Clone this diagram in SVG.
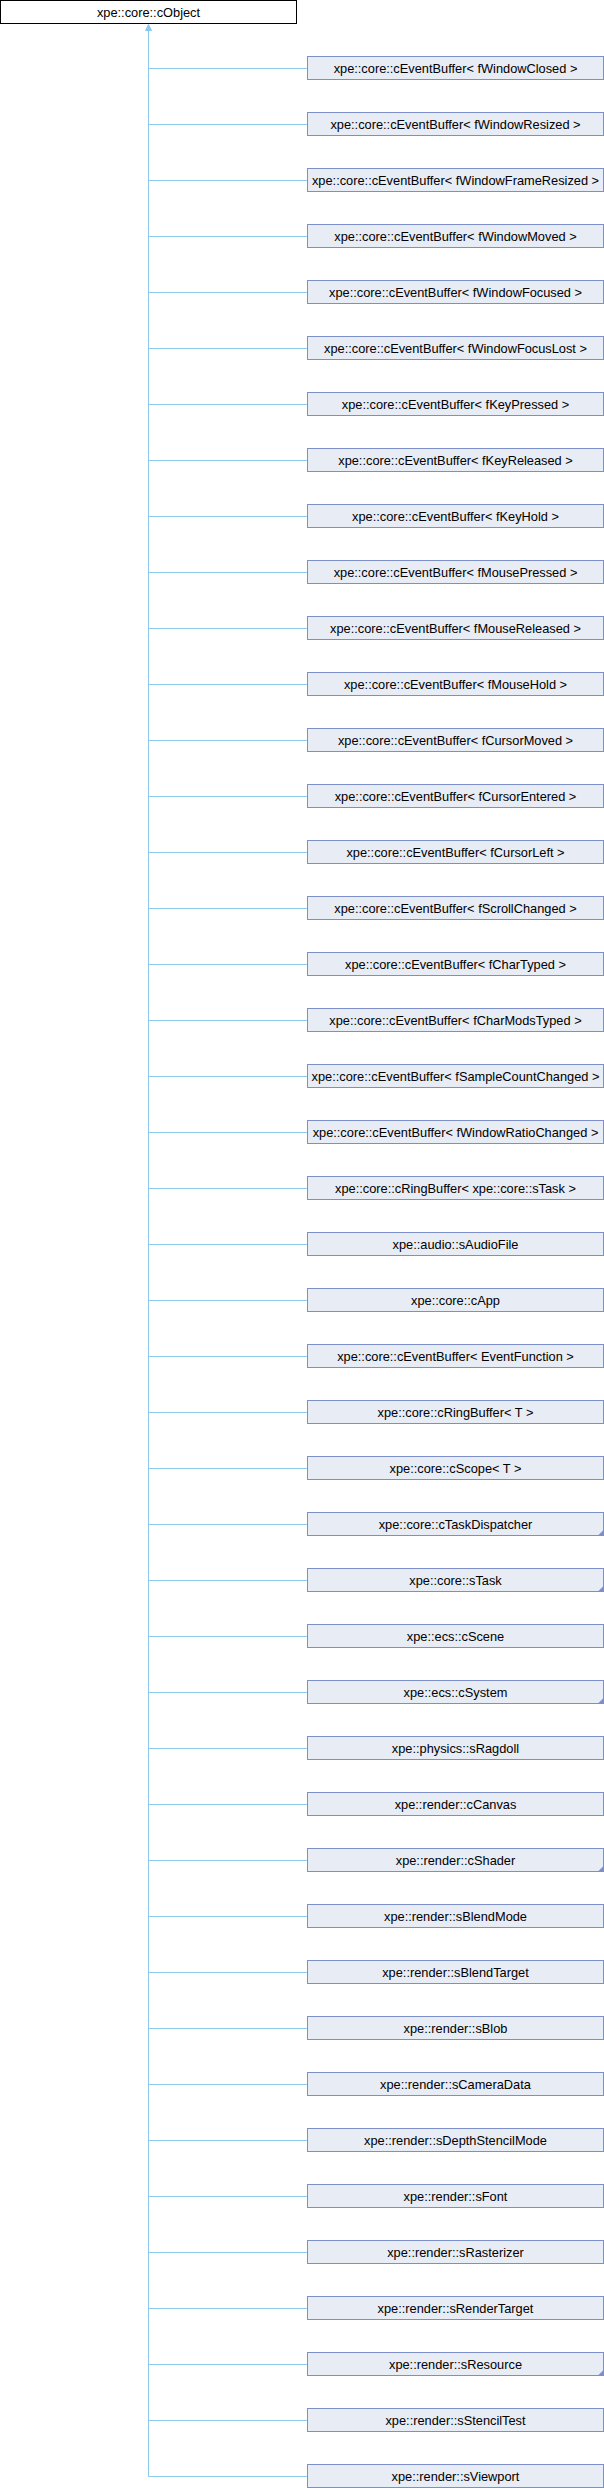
<svg xmlns="http://www.w3.org/2000/svg" width="604" height="2488" viewBox="0 0 604 2488">
<style>
.bg{fill:#ffffff}
.n rect{fill:#E8ECF5;stroke:#7C8FC8;stroke-width:1}
.root rect{fill:#ffffff;stroke:#000000;stroke-width:1}
text{font-family:"Liberation Sans",Arial,sans-serif;font-size:12.8px;fill:#000000;text-anchor:middle}
.fold{fill:#7C8FC8}
.edges path{fill:none;stroke:#8DC9EA;stroke-width:1}
.edges polygon{fill:#8DC9EA;stroke:#8DC9EA;stroke-width:1}
</style>
<rect class="bg" x="0" y="0" width="604" height="2488"/>
<g class="edges" id="connectors">
<path d="M148.5 30V2476.5 M148.5 68.5H307 M148.5 124.5H307 M148.5 180.5H307 M148.5 236.5H307 M148.5 292.5H307 M148.5 348.5H307 M148.5 404.5H307 M148.5 460.5H307 M148.5 516.5H307 M148.5 572.5H307 M148.5 628.5H307 M148.5 684.5H307 M148.5 740.5H307 M148.5 796.5H307 M148.5 852.5H307 M148.5 908.5H307 M148.5 964.5H307 M148.5 1020.5H307 M148.5 1076.5H307 M148.5 1132.5H307 M148.5 1188.5H307 M148.5 1244.5H307 M148.5 1300.5H307 M148.5 1356.5H307 M148.5 1412.5H307 M148.5 1468.5H307 M148.5 1524.5H307 M148.5 1580.5H307 M148.5 1636.5H307 M148.5 1692.5H307 M148.5 1748.5H307 M148.5 1804.5H307 M148.5 1860.5H307 M148.5 1916.5H307 M148.5 1972.5H307 M148.5 2028.5H307 M148.5 2084.5H307 M148.5 2140.5H307 M148.5 2196.5H307 M148.5 2252.5H307 M148.5 2308.5H307 M148.5 2364.5H307 M148.5 2420.5H307 M148.5 2476.5H307"/>
<polygon points="148.5,24.5 145.5,30.5 151.5,30.5"/>
</g>
<g id="cObject" class="root"><rect x="0.5" y="0.5" width="296" height="23"/><text x="148.5" y="16.5">xpe::core::cObject</text></g>
<g id="n0" class="n" transform="translate(307,56)"><rect x="0.5" y="0.5" width="296" height="23"/><text x="148.5" y="16.5">xpe::core::cEventBuffer&lt; fWindowClosed &gt;</text></g>
<g id="n1" class="n" transform="translate(307,112)"><rect x="0.5" y="0.5" width="296" height="23"/><text x="148.5" y="16.5">xpe::core::cEventBuffer&lt; fWindowResized &gt;</text></g>
<g id="n2" class="n" transform="translate(307,168)"><rect x="0.5" y="0.5" width="296" height="23"/><text x="148.5" y="16.5">xpe::core::cEventBuffer&lt; fWindowFrameResized &gt;</text></g>
<g id="n3" class="n" transform="translate(307,224)"><rect x="0.5" y="0.5" width="296" height="23"/><text x="148.5" y="16.5">xpe::core::cEventBuffer&lt; fWindowMoved &gt;</text></g>
<g id="n4" class="n" transform="translate(307,280)"><rect x="0.5" y="0.5" width="296" height="23"/><text x="148.5" y="16.5">xpe::core::cEventBuffer&lt; fWindowFocused &gt;</text></g>
<g id="n5" class="n" transform="translate(307,336)"><rect x="0.5" y="0.5" width="296" height="23"/><text x="148.5" y="16.5">xpe::core::cEventBuffer&lt; fWindowFocusLost &gt;</text></g>
<g id="n6" class="n" transform="translate(307,392)"><rect x="0.5" y="0.5" width="296" height="23"/><text x="148.5" y="16.5">xpe::core::cEventBuffer&lt; fKeyPressed &gt;</text></g>
<g id="n7" class="n" transform="translate(307,448)"><rect x="0.5" y="0.5" width="296" height="23"/><text x="148.5" y="16.5">xpe::core::cEventBuffer&lt; fKeyReleased &gt;</text></g>
<g id="n8" class="n" transform="translate(307,504)"><rect x="0.5" y="0.5" width="296" height="23"/><text x="148.5" y="16.5">xpe::core::cEventBuffer&lt; fKeyHold &gt;</text></g>
<g id="n9" class="n" transform="translate(307,560)"><rect x="0.5" y="0.5" width="296" height="23"/><text x="148.5" y="16.5">xpe::core::cEventBuffer&lt; fMousePressed &gt;</text></g>
<g id="n10" class="n" transform="translate(307,616)"><rect x="0.5" y="0.5" width="296" height="23"/><text x="148.5" y="16.5">xpe::core::cEventBuffer&lt; fMouseReleased &gt;</text></g>
<g id="n11" class="n" transform="translate(307,672)"><rect x="0.5" y="0.5" width="296" height="23"/><text x="148.5" y="16.5">xpe::core::cEventBuffer&lt; fMouseHold &gt;</text></g>
<g id="n12" class="n" transform="translate(307,728)"><rect x="0.5" y="0.5" width="296" height="23"/><text x="148.5" y="16.5">xpe::core::cEventBuffer&lt; fCursorMoved &gt;</text></g>
<g id="n13" class="n" transform="translate(307,784)"><rect x="0.5" y="0.5" width="296" height="23"/><text x="148.5" y="16.5">xpe::core::cEventBuffer&lt; fCursorEntered &gt;</text></g>
<g id="n14" class="n" transform="translate(307,840)"><rect x="0.5" y="0.5" width="296" height="23"/><text x="148.5" y="16.5">xpe::core::cEventBuffer&lt; fCursorLeft &gt;</text></g>
<g id="n15" class="n" transform="translate(307,896)"><rect x="0.5" y="0.5" width="296" height="23"/><text x="148.5" y="16.5">xpe::core::cEventBuffer&lt; fScrollChanged &gt;</text></g>
<g id="n16" class="n" transform="translate(307,952)"><rect x="0.5" y="0.5" width="296" height="23"/><text x="148.5" y="16.5">xpe::core::cEventBuffer&lt; fCharTyped &gt;</text></g>
<g id="n17" class="n" transform="translate(307,1008)"><rect x="0.5" y="0.5" width="296" height="23"/><text x="148.5" y="16.5">xpe::core::cEventBuffer&lt; fCharModsTyped &gt;</text></g>
<g id="n18" class="n" transform="translate(307,1064)"><rect x="0.5" y="0.5" width="296" height="23"/><text x="148.5" y="16.5">xpe::core::cEventBuffer&lt; fSampleCountChanged &gt;</text></g>
<g id="n19" class="n" transform="translate(307,1120)"><rect x="0.5" y="0.5" width="296" height="23"/><text x="148.5" y="16.5">xpe::core::cEventBuffer&lt; fWindowRatioChanged &gt;</text></g>
<g id="n20" class="n" transform="translate(307,1176)"><rect x="0.5" y="0.5" width="296" height="23"/><text x="148.5" y="16.5">xpe::core::cRingBuffer&lt; xpe::core::sTask &gt;</text></g>
<g id="n21" class="n" transform="translate(307,1232)"><rect x="0.5" y="0.5" width="296" height="23"/><text x="148.5" y="16.5">xpe::audio::sAudioFile</text></g>
<g id="n22" class="n" transform="translate(307,1288)"><rect x="0.5" y="0.5" width="296" height="23"/><text x="148.5" y="16.5">xpe::core::cApp</text></g>
<g id="n23" class="n" transform="translate(307,1344)"><rect x="0.5" y="0.5" width="296" height="23"/><text x="148.5" y="16.5">xpe::core::cEventBuffer&lt; EventFunction &gt;</text></g>
<g id="n24" class="n" transform="translate(307,1400)"><rect x="0.5" y="0.5" width="296" height="23"/><text x="148.5" y="16.5">xpe::core::cRingBuffer&lt; T &gt;</text></g>
<g id="n25" class="n" transform="translate(307,1456)"><rect x="0.5" y="0.5" width="296" height="23"/><text x="148.5" y="16.5">xpe::core::cScope&lt; T &gt;</text></g>
<g id="n26" class="n" transform="translate(307,1512)"><rect x="0.5" y="0.5" width="296" height="23"/><polygon class="fold" points="296.5,18 296.5,23.5 291,23.5"/><text x="148.5" y="16.5">xpe::core::cTaskDispatcher</text></g>
<g id="n27" class="n" transform="translate(307,1568)"><rect x="0.5" y="0.5" width="296" height="23"/><polygon class="fold" points="296.5,18 296.5,23.5 291,23.5"/><text x="148.5" y="16.5">xpe::core::sTask</text></g>
<g id="n28" class="n" transform="translate(307,1624)"><rect x="0.5" y="0.5" width="296" height="23"/><text x="148.5" y="16.5">xpe::ecs::cScene</text></g>
<g id="n29" class="n" transform="translate(307,1680)"><rect x="0.5" y="0.5" width="296" height="23"/><polygon class="fold" points="296.5,18 296.5,23.5 291,23.5"/><text x="148.5" y="16.5">xpe::ecs::cSystem</text></g>
<g id="n30" class="n" transform="translate(307,1736)"><rect x="0.5" y="0.5" width="296" height="23"/><text x="148.5" y="16.5">xpe::physics::sRagdoll</text></g>
<g id="n31" class="n" transform="translate(307,1792)"><rect x="0.5" y="0.5" width="296" height="23"/><text x="148.5" y="16.5">xpe::render::cCanvas</text></g>
<g id="n32" class="n" transform="translate(307,1848)"><rect x="0.5" y="0.5" width="296" height="23"/><polygon class="fold" points="296.5,18 296.5,23.5 291,23.5"/><text x="148.5" y="16.5">xpe::render::cShader</text></g>
<g id="n33" class="n" transform="translate(307,1904)"><rect x="0.5" y="0.5" width="296" height="23"/><text x="148.5" y="16.5">xpe::render::sBlendMode</text></g>
<g id="n34" class="n" transform="translate(307,1960)"><rect x="0.5" y="0.5" width="296" height="23"/><text x="148.5" y="16.5">xpe::render::sBlendTarget</text></g>
<g id="n35" class="n" transform="translate(307,2016)"><rect x="0.5" y="0.5" width="296" height="23"/><text x="148.5" y="16.5">xpe::render::sBlob</text></g>
<g id="n36" class="n" transform="translate(307,2072)"><rect x="0.5" y="0.5" width="296" height="23"/><text x="148.5" y="16.5">xpe::render::sCameraData</text></g>
<g id="n37" class="n" transform="translate(307,2128)"><rect x="0.5" y="0.5" width="296" height="23"/><text x="148.5" y="16.5">xpe::render::sDepthStencilMode</text></g>
<g id="n38" class="n" transform="translate(307,2184)"><rect x="0.5" y="0.5" width="296" height="23"/><text x="148.5" y="16.5">xpe::render::sFont</text></g>
<g id="n39" class="n" transform="translate(307,2240)"><rect x="0.5" y="0.5" width="296" height="23"/><text x="148.5" y="16.5">xpe::render::sRasterizer</text></g>
<g id="n40" class="n" transform="translate(307,2296)"><rect x="0.5" y="0.5" width="296" height="23"/><text x="148.5" y="16.5">xpe::render::sRenderTarget</text></g>
<g id="n41" class="n" transform="translate(307,2352)"><rect x="0.5" y="0.5" width="296" height="23"/><polygon class="fold" points="296.5,18 296.5,23.5 291,23.5"/><text x="148.5" y="16.5">xpe::render::sResource</text></g>
<g id="n42" class="n" transform="translate(307,2408)"><rect x="0.5" y="0.5" width="296" height="23"/><text x="148.5" y="16.5">xpe::render::sStencilTest</text></g>
<g id="n43" class="n" transform="translate(307,2464)"><rect x="0.5" y="0.5" width="296" height="23"/><text x="148.5" y="16.5">xpe::render::sViewport</text></g>
</svg>
